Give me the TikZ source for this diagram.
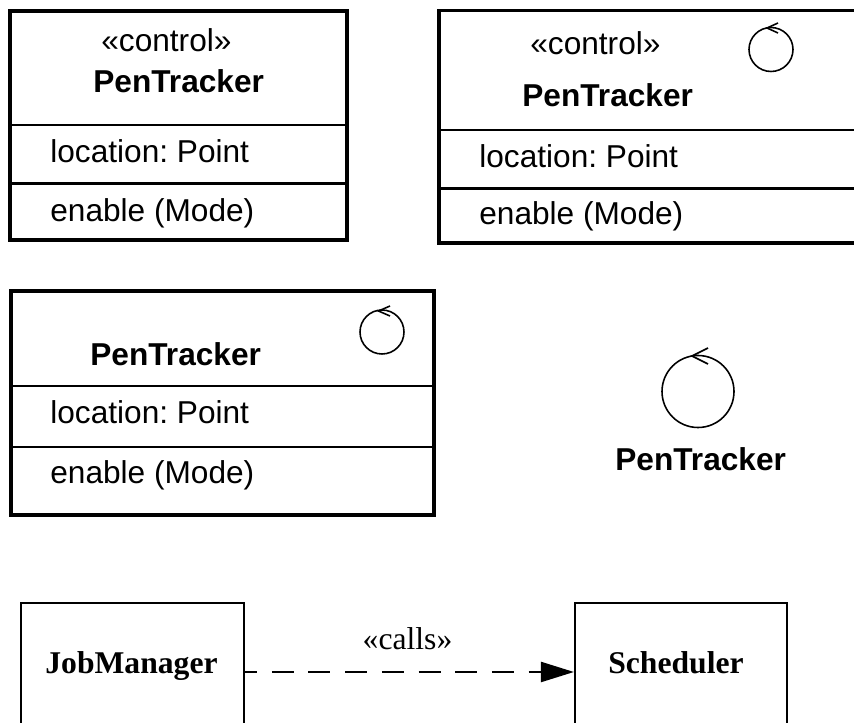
\documentclass[tikz,border=0pt]{standalone}
\usepackage{fontspec}
\setmainfont{Liberation Serif}
\setsansfont{Liberation Sans}
\usetikzlibrary{arrows.meta}
\frenchspacing

\begin{document}
\begin{tikzpicture}[scale=0.2,
  classline/.style={black,line width=1.9pt},
  partline/.style={black,line width=1.2pt},
  ctrlline/.style={black,line width=0.9pt},
  sanstext/.style={font=\sffamily\fontsize{18}{20}\selectfont,anchor=base west},
  boldtext/.style={font=\sffamily\bfseries\fontsize{18}{20}\selectfont,anchor=base west},
  plainbox/.style={draw=black,line width=1.2pt,minimum height=2.76cm},
  serifbold/.style={font=\bfseries\fontsize{18}{20}\selectfont,anchor=base},
  dependency/.style={black,line width=1.3pt,dash pattern=on 0.44cm off 0.294cm,dash phase=0.2cm,-{Triangle[length=0.66cm,width=0.4cm]}}]
\tikzstyle{every node}+=[inner sep=0pt]
\clip (0,0) rectangle (85.4,-72.3);
\draw [classline] (1,-1.1) rectangle (34.7,-24);
\draw [partline] (1,-12.5) -- (34.7,-12.5);
\draw [partline] (1,-18.35) -- (34.7,-18.35);
\node [sanstext] (stereoa) at (10.1,-5.2) {«control»};
\node [boldtext] (namea) at (9.3,-9.3) {PenTracker};
\node [sanstext] (attra) at (5,-16.3) {location: Point};
\node [sanstext] (opa) at (5,-22.2) {enable (Mode)};
\draw [classline] (87,-1.05) -- (43.9,-1.05) -- (43.9,-24.3) -- (87,-24.3);
\draw [partline] (43.9,-13) -- (85.4,-13);
\draw [partline] (43.9,-18.85) -- (85.4,-18.85);
\node [sanstext] (stereob) at (53,-5.5) {«control»};
\node [boldtext] (nameb) at (52.2,-10.7) {PenTracker};
\node [sanstext] (attrb) at (47.9,-16.8) {location: Point};
\node [sanstext] (opb) at (47.9,-22.5) {enable (Mode)};
\draw [ctrlline] (77.1,-4.95) circle (2.2);
\draw [ctrlline] (77.8,-2.3) -- (76.7,-2.8) -- (77.8,-3.3);
\draw [classline] (1.1,-29.1) rectangle (43.4,-51.5);
\draw [partline] (0.9,-38.6) -- (43.4,-38.6);
\draw [partline] (0.9,-44.7) -- (43.4,-44.7);
\node [boldtext] (namec) at (9,-36.6) {PenTracker};
\node [sanstext] (attrc) at (5,-42.4) {location: Point};
\node [sanstext] (opc) at (5,-48.3) {enable (Mode)};
\draw [ctrlline] (38.2,-33.2) circle (2.2);
\draw [ctrlline] (39,-30.6) -- (37.85,-31.1) -- (39,-31.6);
\draw [ctrlline] (69.8,-39.15) circle (3.6);
\draw [ctrlline] (70.8,-34.8) -- (69.2,-35.6) -- (70.8,-36.4);
\node [boldtext] (named) at (61.5,-47.05) {PenTracker};
\node [plainbox,minimum width=4.46cm] (jobmanager) at (13.25,-67.2) {};
\node [plainbox,minimum width=4.24cm] (scheduler) at (68.1,-67.2) {};
\node [serifbold] (jobmanagertext) at (13.15,-67.3) {JobManager};
\node [serifbold] (schedulertext) at (67.6,-67.3) {Scheduler};
\draw [dependency] (jobmanager.east) -- (scheduler.west);
\node [font=\fontsize{18}{20}\selectfont,anchor=base] (calls) at (40.75,-64.9) {«calls»};
\end{tikzpicture}
\end{document}
